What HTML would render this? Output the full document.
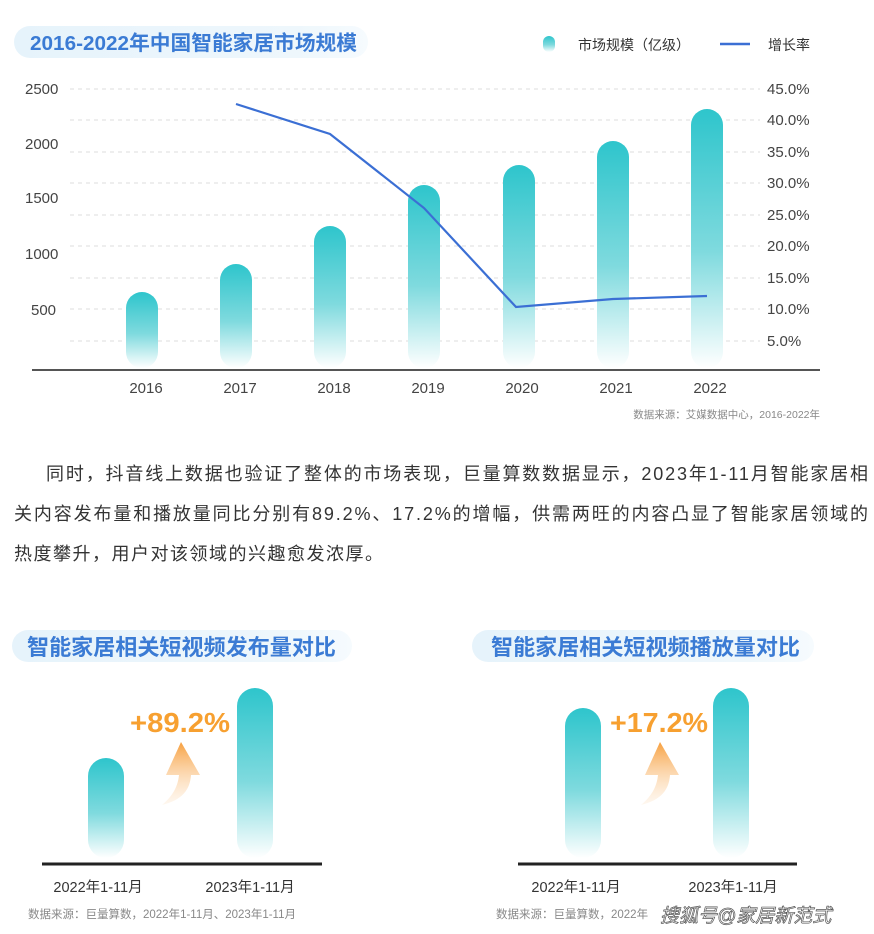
<!DOCTYPE html>
<html><head><meta charset="utf-8"><style>
html,body{margin:0;padding:0;background:#fff;}
svg{display:block;font-family:"Liberation Sans","Noto Sans CJK SC",sans-serif;}
</style></head><body>
<svg width="874" height="934" viewBox="0 0 874 934" xmlns="http://www.w3.org/2000/svg">
<defs>
<linearGradient id="bar" x1="0" y1="0" x2="0" y2="1">
<stop offset="0" stop-color="#2ec5cc"/><stop offset="0.55" stop-color="#7fdade"/><stop offset="1" stop-color="#ffffff"/>
</linearGradient>
<linearGradient id="pill" x1="0" y1="0" x2="1" y2="0">
<stop offset="0" stop-color="#e6f3fb"/><stop offset="0.8" stop-color="#eef7fc"/><stop offset="1" stop-color="#f6fbfe"/>
</linearGradient>
<linearGradient id="arr" x1="0" y1="0" x2="0" y2="1">
<stop offset="0" stop-color="#f7a040"/><stop offset="1" stop-color="#fde6cc" stop-opacity="0.3"/>
</linearGradient>
</defs>
<rect x="14" y="26" width="354" height="32" rx="16" fill="url(#pill)"/>
<text x="30" y="50" font-size="20.5" font-weight="bold" fill="#3b7bd4" textLength="327" lengthAdjust="spacingAndGlyphs">2016-2022年中国智能家居市场规模</text>
<rect x="543" y="36" width="12" height="16" rx="6" fill="url(#bar)"/>
<text x="578" y="50" font-size="14" fill="#333">市场规模（亿级）</text>
<line x1="720" y1="44" x2="750" y2="44" stroke="#3b6fd4" stroke-width="2.5"/>
<text x="768" y="50" font-size="14" fill="#333">增长率</text>
<g stroke="#ddd" stroke-dasharray="4,4" stroke-width="1">
<line x1="70" y1="89" x2="760" y2="89"/><line x1="70" y1="120" x2="760" y2="120"/>
<line x1="70" y1="152" x2="760" y2="152"/><line x1="70" y1="183" x2="760" y2="183"/>
<line x1="70" y1="215" x2="760" y2="215"/><line x1="70" y1="246" x2="760" y2="246"/>
<line x1="70" y1="278" x2="760" y2="278"/><line x1="70" y1="309" x2="760" y2="309"/>
<line x1="70" y1="341" x2="760" y2="341"/>
</g>
<g font-size="15" fill="#444">
<text x="25" y="94">2500</text><text x="25" y="149">2000</text><text x="25" y="203">1500</text>
<text x="25" y="259">1000</text><text x="31" y="315">500</text>
</g>
<g font-size="15" fill="#444">
<text x="767" y="94">45.0%</text><text x="767" y="125">40.0%</text><text x="767" y="157">35.0%</text>
<text x="767" y="188">30.0%</text><text x="767" y="220">25.0%</text><text x="767" y="251">20.0%</text>
<text x="767" y="283">15.0%</text><text x="767" y="314">10.0%</text><text x="767" y="346">5.0%</text>
</g>
<g fill="url(#bar)">
<rect x="126" y="292" width="32" height="76" rx="16"/>
<rect x="220" y="264" width="32" height="104" rx="16"/>
<rect x="314" y="226" width="32" height="142" rx="16"/>
<rect x="408" y="185" width="32" height="183" rx="16"/>
<rect x="503" y="165" width="32" height="203" rx="16"/>
<rect x="597" y="141" width="32" height="227" rx="16"/>
<rect x="691" y="109" width="32" height="259" rx="16"/>
</g>
<polyline points="236,104 330,134 424,208 516,307 613,299 707,296" fill="none" stroke="#3b6fd4" stroke-width="2.2"/>
<line x1="32" y1="370" x2="820" y2="370" stroke="#555" stroke-width="2"/>
<g font-size="15" fill="#444" text-anchor="middle">
<text x="146" y="393">2016</text><text x="240" y="393">2017</text><text x="334" y="393">2018</text>
<text x="428" y="393">2019</text><text x="522" y="393">2020</text><text x="616" y="393">2021</text><text x="710" y="393">2022</text>
</g>
<text x="820" y="418" font-size="10.5" fill="#888" text-anchor="end">数据来源：艾媒数据中心，2016-2022年</text>
<g font-size="18" fill="#333">
<text x="46" y="480" textLength="822" lengthAdjust="spacing">同时，抖音线上数据也验证了整体的市场表现，巨量算数数据显示，2023年1-11月智能家居相</text>
<text x="14" y="520" textLength="854" lengthAdjust="spacing">关内容发布量和播放量同比分别有89.2%、17.2%的增幅，供需两旺的内容凸显了智能家居领域的</text>
<text x="14" y="560" letter-spacing="1.5">热度攀升，用户对该领域的兴趣愈发浓厚。</text>
</g>
<rect x="12" y="630" width="340" height="32" rx="16" fill="url(#pill)"/>
<text x="27" y="655" font-size="22" font-weight="bold" fill="#3b7bd4" textLength="309" lengthAdjust="spacingAndGlyphs">智能家居相关短视频发布量对比</text>
<rect x="88" y="758" width="36" height="100" rx="18" fill="url(#bar)"/>
<rect x="237" y="688" width="36" height="170" rx="18" fill="url(#bar)"/>
<text x="130" y="732" font-size="28" font-weight="bold" fill="#f7a030" textLength="100" lengthAdjust="spacingAndGlyphs">+89.2%</text>
<path d="M162,805 C174,795 178,785 179,775 L166,775 L181,742 L200,775 L191,775 C190,790 182,800 162,805 Z" fill="url(#arr)"/>
<line x1="42" y1="864" x2="322" y2="864" stroke="#222" stroke-width="3"/>
<text x="98" y="892" font-size="14.5" fill="#333" text-anchor="middle">2022年1-11月</text>
<text x="250" y="892" font-size="14.5" fill="#333" text-anchor="middle">2023年1-11月</text>
<text x="28" y="918" font-size="11.5" fill="#888">数据来源：巨量算数，2022年1-11月、2023年1-11月</text>
<rect x="472" y="630" width="342" height="32" rx="16" fill="url(#pill)"/>
<text x="491" y="655" font-size="22" font-weight="bold" fill="#3b7bd4" textLength="309" lengthAdjust="spacingAndGlyphs">智能家居相关短视频播放量对比</text>
<rect x="565" y="708" width="36" height="150" rx="18" fill="url(#bar)"/>
<rect x="713" y="688" width="36" height="170" rx="18" fill="url(#bar)"/>
<text x="610" y="732" font-size="28" font-weight="bold" fill="#f7a030" textLength="98" lengthAdjust="spacingAndGlyphs">+17.2%</text>
<path d="M641,805 C653,795 657,785 658,775 L645,775 L660,742 L679,775 L670,775 C669,790 661,800 641,805 Z" fill="url(#arr)"/>
<line x1="518" y1="864" x2="797" y2="864" stroke="#222" stroke-width="3"/>
<text x="576" y="892" font-size="14.5" fill="#333" text-anchor="middle">2022年1-11月</text>
<text x="733" y="892" font-size="14.5" fill="#333" text-anchor="middle">2023年1-11月</text>
<text x="496" y="918" font-size="11.5" fill="#888">数据来源：巨量算数，2022年</text>
<text x="660" y="922" font-size="19" fill="#fff" stroke="#555" stroke-width="0.7" font-style="italic">搜狐号@家居新范式</text>
</svg>
</body></html>
